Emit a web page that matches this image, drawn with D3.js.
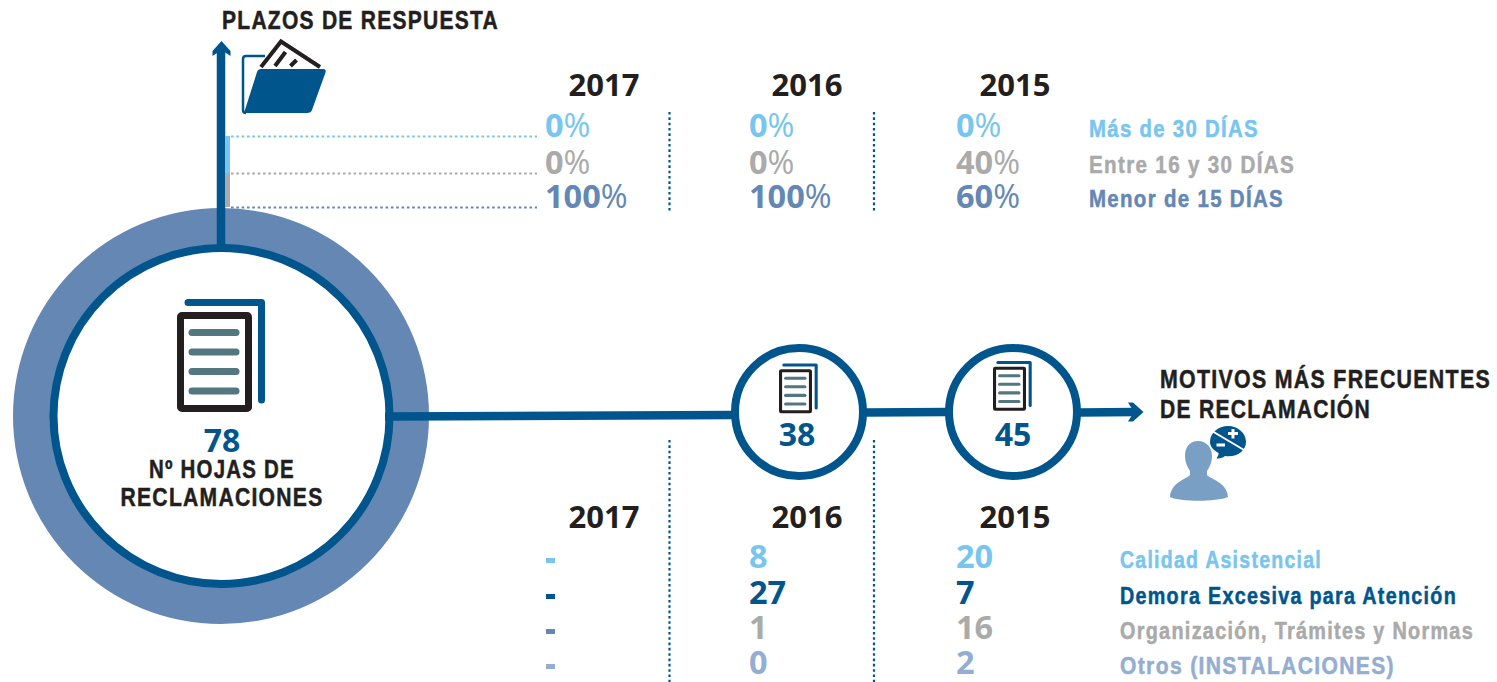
<!DOCTYPE html>
<html>
<head>
<meta charset="utf-8">
<script src="https://cdn.jsdelivr.net/npm/d3@7"></script>
<style>
  html, body { margin: 0; background: #fff; }
  svg { display: block; }
  text { font-family: "Liberation Sans", sans-serif; font-weight: 700; }
  .num { font-family: "Open Sans", sans-serif; }
</style>
</head>
<body>
<div id="chart"></div>
<script>
const years = ["2017", "2016", "2015"];

// Plazos de respuesta (%)
const plazoLabels = ["Más de 30 DÍAS", "Entre 16 y 30 DÍAS", "Menor de 15 DÍAS"];
const plazos2017 = [0, 0, 100];
const plazos2016 = [0, 0, 100];
const plazos2015 = [0, 40, 60];

// Motivos de reclamación (2017 has no values, shown as a dash)
const motivoLabels = ["Calidad Asistencial", "Demora Excesiva para Atención", "Organización, Trámites y Normas", "Otros (INSTALACIONES)"];
const motivos2017 = [null, null, null, null];
const motivos2016 = [8, 27, 1, 0];
const motivos2015 = [20, 7, 16, 2];

// Nº hojas de reclamaciones
const totals = [78, 38, 45];

const DARK = "#00558d", MID = "#6487b3", LIGHT = "#78c5ef", GREY = "#aaaaaa", PALE = "#93aed0", INK = "#231f20";

const svg = d3.select("#chart").append("svg").attr("width", 1497).attr("height", 682);

// Column and row scales
const headerX = d3.scaleOrdinal().domain(years).range([604, 807, 1015]);
const valueX = d3.scaleOrdinal().domain(years).range([545, 749, 956]);
const plazoY = d3.scaleOrdinal().domain(plazoLabels).range([137, 174, 208]);
const plazoLabelY = d3.scaleOrdinal().domain(plazoLabels).range([137, 173, 207]);
const leaderY = d3.scaleOrdinal().domain(plazoLabels).range([136.5, 173.5, 207.5]);
const plazoWidth = d3.scaleOrdinal().domain(plazoLabels).range([170, 206, 195]);
const plazoColor = d3.scaleOrdinal().domain(plazoLabels).range([LIGHT, GREY, MID]);
const motivoY = d3.scaleOrdinal().domain(motivoLabels).range([568, 604, 639, 674]);
const motivoWidth = d3.scaleOrdinal().domain(motivoLabels).range([202, 337, 354, 275]);
const motivoColor = d3.scaleOrdinal().domain(motivoLabels).range([LIGHT, DARK, GREY, PALE]);
const dashColor = d3.scaleOrdinal().domain(motivoLabels).range([LIGHT, DARK, MID, PALE]);

// --- Big circle and connecting lines ---
svg.append("circle").attr("cx", 221).attr("cy", 416).attr("r", 208).attr("fill", MID);
svg.append("circle").attr("cx", 221.5).attr("cy", 416).attr("r", 168)
    .attr("fill", "#fff").attr("stroke", DARK).attr("stroke-width", 8);

const link = (x1, y1, x2, y2) => svg.append("line")
    .attr("x1", x1).attr("y1", y1).attr("x2", x2).attr("y2", y2)
    .attr("stroke", DARK).attr("stroke-width", 8.5);

link(385, 416.5, 735, 415);
link(865, 412.5, 947, 412);
link(1079, 412.5, 1136, 412);
link(221, 246, 221, 48);

// Arrow heads
svg.append("path").attr("fill", DARK).attr("d", "M221.5,41 L230.5,51 L230.5,56 L221.5,50 L212.5,56 L212.5,51 Z");
svg.append("path").attr("fill", DARK).attr("d", "M1143.5,412 L1133,402.5 L1128,402.5 L1134,412 L1128,421.5 L1133,421.5 Z");

// Coloured bars next to the vertical arrow
svg.append("rect").attr("x", 225).attr("y", 136).attr("width", 5).attr("height", 37).attr("fill", LIGHT);
svg.append("rect").attr("x", 225).attr("y", 173).attr("width", 5).attr("height", 34).attr("fill", GREY);

// Dotted leaders
svg.selectAll(".leader").data(plazoLabels).join("line")
    .attr("class", "leader")
    .attr("x1", 231).attr("x2", 537)
    .attr("y1", d => leaderY(d)).attr("y2", d => leaderY(d))
    .attr("stroke", d => plazoColor(d))
    .attr("stroke-width", 2.2)
    .style("stroke-dasharray", "2.6,2.73");

// Column separators
[[112, 213], [440, 682]].forEach(([y1, y2]) => {
    [669.5, 874].forEach(x => {
        svg.append("line").attr("x1", x).attr("x2", x).attr("y1", y1).attr("y2", y2)
            .attr("stroke", DARK).attr("stroke-width", 2.2).style("stroke-dasharray", "2.6,2.73");
    });
});

// --- Small circles ---
[799, 1013].forEach(cx => {
    svg.append("circle").attr("cx", cx).attr("cy", 412).attr("r", 64)
        .attr("fill", "#fff").attr("stroke", DARK).attr("stroke-width", 8);
});

// --- Document icon ---
function drawDoc(x, y, k) {
    const g = svg.append("g").attr("transform", `translate(${x},${y}) scale(${k})`);
    g.append("path").attr("fill", "none").attr("stroke", DARK).attr("stroke-width", 7)
        .attr("stroke-linecap", "round").attr("stroke-linejoin", "round")
        .attr("d", "M11,3.5 H84.5 V101");
    g.append("rect").attr("x", 3.5).attr("y", 16.5).attr("width", 68).attr("height", 93).attr("rx", 1.5)
        .attr("fill", "#fff").attr("stroke", INK).attr("stroke-width", 7);
    [33.5, 53, 72.5, 92].forEach(ly => {
        g.append("line").attr("x1", 15).attr("x2", 59).attr("y1", ly).attr("y2", ly)
            .attr("stroke", "#527780").attr("stroke-width", 7).attr("stroke-linecap", "round");
    });
}
drawDoc(177, 299, 1);
drawDoc(779, 363.5, 0.44);
drawDoc(993, 361, 0.44);

// --- Folder icon ---
const folder = svg.append("g");
folder.append("path").attr("fill", "none").attr("stroke", DARK).attr("stroke-width", 2.5)
    .attr("d", "M265,56 H246 Q243,56 243,59 V110 Q243,113 246,113");
folder.append("path").attr("fill", "none").attr("stroke", INK).attr("stroke-width", 4)
    .attr("stroke-linejoin", "miter")
    .attr("d", "M261,67 L281,41.5 L320,67");
folder.append("path").attr("fill", "none").attr("stroke", INK).attr("stroke-width", 4)
    .attr("d", "M285.5,52 L275,66 M296.5,60 L290.5,66");
folder.append("path").attr("fill", DARK)
    .attr("d", "M261,69 H323 Q326.5,69 325.5,72.5 L312,110 Q311,113 307,113 H244 L257,72 Q258,69 261,69 Z");

// --- Person icon ---
const person = svg.append("g");
person.append("path").attr("fill", "#7a9fc5")
    .attr("d", "M1198,441 C1189,441 1185,448 1185,456 C1185,462 1187,466 1190,471 L1190,475 C1187,479 1171,482 1170,497 C1180,502 1216,502 1228,497 C1227,482 1210,479 1207,475 L1207,471 C1210,466 1212,462 1212,456 C1212,448 1207,441 1198,441 Z");
person.append("path").attr("fill", DARK)
    .attr("d", "M1228,426 C1238,426 1246,433 1246,442 C1246,451 1236,458 1225,456 C1223,458 1219,458.5 1216.5,458.5 C1218,456 1219,454 1218.5,453 C1213,450 1210,446 1210,442 C1210,433 1218,426 1228,426 Z");
person.append("line").attr("x1", 1212).attr("y1", 431).attr("x2", 1244).attr("y2", 450)
    .attr("stroke", "#fff").attr("stroke-width", 2);
person.append("path").attr("fill", "none").attr("stroke", "#fff").attr("stroke-width", 3)
    .attr("d", "M1228,433.5 H1238 M1233,429 V438.5 M1216.5,445 H1225");

// --- Text helper: squeezes the glyphs to the measured width ---
function label(txt, x, y, size, color, width, anchor = "start") {
    return svg.append("text").attr("x", x).attr("y", y)
        .attr("font-size", size).attr("fill", color)
        .attr("stroke", color).attr("stroke-width", 0.5)
        .attr("letter-spacing", 1.5)
        .attr("textLength", width).attr("lengthAdjust", "spacingAndGlyphs")
        .attr("text-anchor", anchor).text(txt);
}

label("PLAZOS DE RESPUESTA", 222, 29, 25, INK, 277);
label("MOTIVOS MÁS FRECUENTES", 1160, 388, 25, INK, 331);
label("DE RECLAMACIÓN", 1160, 418, 25, INK, 211);
label("Nº HOJAS DE", 222, 478, 25, INK, 146, "middle");
label("RECLAMACIONES", 222, 506, 25, INK, 203, "middle");

// Totals inside the circles
const totalX = [222, 797, 1013];
const totalY = [452, 446, 446];
svg.selectAll(".total").data(totals).join("text")
    .attr("class", "total num")
    .attr("x", (d, i) => totalX[i]).attr("y", (d, i) => totalY[i])
    .attr("text-anchor", "middle").attr("font-size", 32).attr("fill", DARK)
    .text(d => d);

// Year headers
[96, 528].forEach(y => {
    svg.selectAll(null).data(years).join("text")
        .attr("class", "num")
        .attr("x", d => headerX(d)).attr("y", y)
        .attr("text-anchor", "middle").attr("font-size", 31).attr("fill", INK)
        .text(d => d);
});

// --- Top table ---
const plazosByYear = [plazos2017, plazos2016, plazos2015];
years.forEach((year, c) => {
    const cells = svg.selectAll(null).data(plazosByYear[c]).join("text")
        .attr("class", "num")
        .attr("x", valueX(year))
        .attr("y", (d, i) => plazoY(plazoLabels[i]))
        .attr("font-size", 32.5)
        .attr("fill", (d, i) => plazoColor(plazoLabels[i]));
    cells.append("tspan").style("font-weight", 700).text(d => d);
    cells.append("tspan").style("font-weight", 400).text("%");
});

svg.selectAll(".plazo-label").data(plazoLabels).join("text")
    .attr("class", "plazo-label")
    .attr("x", 1089)
    .attr("y", d => plazoLabelY(d))
    .attr("font-size", 23).attr("letter-spacing", 1.5)
    .attr("textLength", d => plazoWidth(d)).attr("lengthAdjust", "spacingAndGlyphs")
    .attr("fill", d => plazoColor(d)).attr("stroke", d => plazoColor(d)).attr("stroke-width", 0.5)
    .text(d => d);

// --- Bottom table ---
const motivosByYear = [motivos2017, motivos2016, motivos2015];
years.forEach((year, c) => {
    motivosByYear[c].forEach((v, i) => {
        const name = motivoLabels[i];
        if (v === null) {
            svg.append("rect")
                .attr("x", valueX(year) + 1).attr("y", motivoY(name) - 10)
                .attr("width", 9).attr("height", 5)
                .attr("fill", dashColor(name));
        } else {
            svg.append("text").attr("class", "num")
                .attr("x", valueX(year)).attr("y", motivoY(name))
                .attr("font-size", 32.5).attr("fill", motivoColor(name))
                .text(v);
        }
    });
});

svg.selectAll(".motivo-label").data(motivoLabels).join("text")
    .attr("class", "motivo-label")
    .attr("x", 1120)
    .attr("y", d => motivoY(d))
    .attr("font-size", 23).attr("letter-spacing", 1.5)
    .attr("textLength", d => motivoWidth(d)).attr("lengthAdjust", "spacingAndGlyphs")
    .attr("fill", d => motivoColor(d)).attr("stroke", d => motivoColor(d)).attr("stroke-width", 0.5)
    .text(d => d);
</script>
</body>
</html>
